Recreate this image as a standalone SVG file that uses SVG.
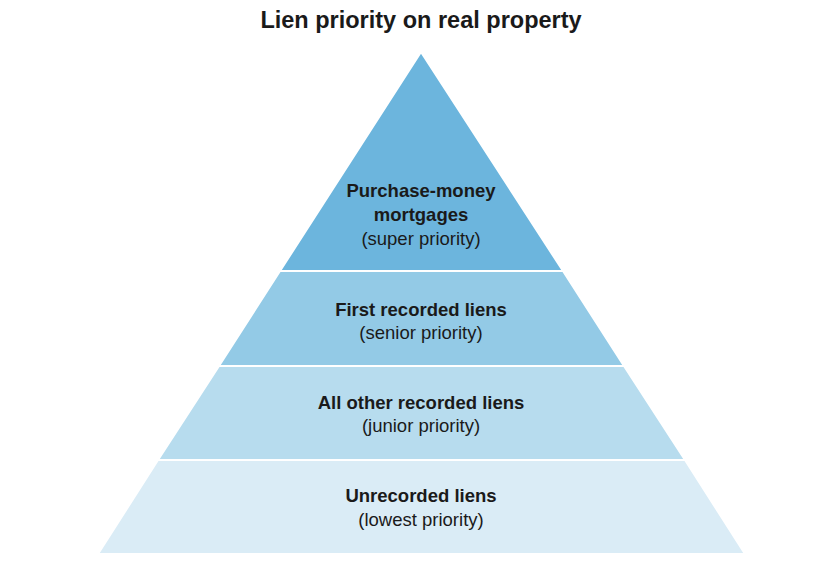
<svg xmlns="http://www.w3.org/2000/svg" width="816" height="564" viewBox="0 0 816 564">
<style>
text{font-family:"Liberation Sans",Arial,sans-serif;fill:#1a1a1a;text-anchor:middle}
.t{font-size:23.5px;font-weight:bold}
.b{font-size:18.5px;font-weight:bold}
.r{font-size:18.5px}
.band{stroke:#ffffff;stroke-width:2}
</style>
<rect width="816" height="564" fill="#ffffff"/>
<text class="t" x="421" y="28">Lien priority on real property</text>
<g id="band1">
<polygon class="band" points="421,52 563,271 280,271" fill="#6CB5DD"/>
<text class="b" x="421" y="197">Purchase-money</text>
<text class="b" x="421" y="221">mortgages</text>
<text class="r" x="421" y="245">(super priority)</text>
</g>
<g id="band2">
<polygon class="band" points="280,271 563,271 624,366 219,366" fill="#93CAE6"/>
<text class="b" x="421" y="316">First recorded liens</text>
<text class="r" x="421" y="339">(senior priority)</text>
</g>
<g id="band3">
<polygon class="band" points="219,366 624,366 685,460 158,460" fill="#B7DCEE"/>
<text class="b" x="421" y="409">All other recorded liens</text>
<text class="r" x="421" y="432">(junior priority)</text>
</g>
<g id="band4">
<polygon class="band" points="158,460 685,460 745,554 98,554" fill="#DAECF6"/>
<text class="b" x="421" y="502">Unrecorded liens</text>
<text class="r" x="421" y="526">(lowest priority)</text>
</g>
<g id="connectors"/>
</svg>
